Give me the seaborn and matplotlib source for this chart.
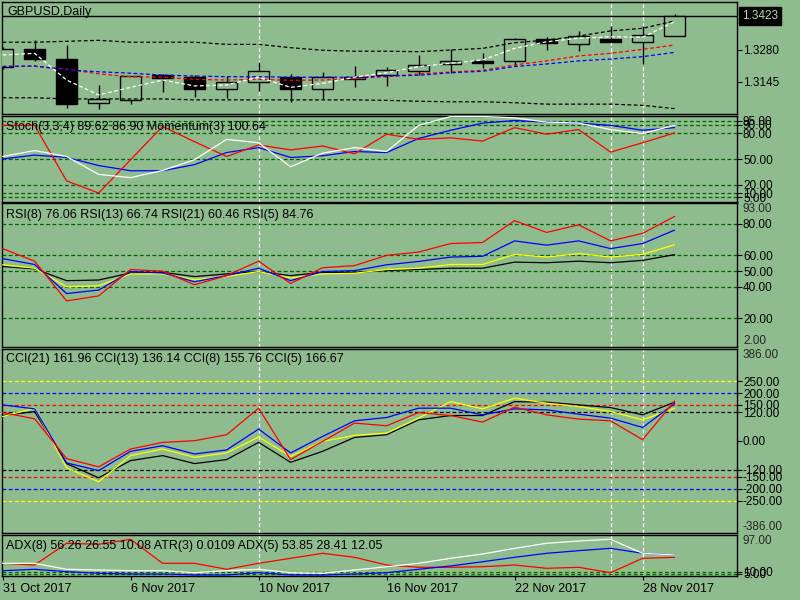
import matplotlib
matplotlib.use("Agg")
import matplotlib.pyplot as plt
import numpy as np
import pandas as pd
import seaborn as sns

# GBPUSD daily bars
dates = pd.to_datetime([
    "2017-10-31", "2017-11-01", "2017-11-02", "2017-11-03", "2017-11-06", "2017-11-07",
    "2017-11-08", "2017-11-09", "2017-11-10", "2017-11-13", "2017-11-14", "2017-11-15",
    "2017-11-16", "2017-11-17", "2017-11-20", "2017-11-21", "2017-11-22", "2017-11-23",
    "2017-11-24", "2017-11-27", "2017-11-28", "2017-11-29"])

opens = [1.3209, 1.3283, 1.3241, 1.3054, 1.3066, 1.3175, 1.3164, 1.3113, 1.3143, 1.3164, 1.3113,
         1.3157, 1.3175, 1.3192, 1.3219, 1.3232, 1.3234, 1.3326, 1.3306, 1.3325, 1.3314, 1.3337]
highs = [1.3290, 1.3321, 1.3300, 1.3131, 1.3170, 1.3178, 1.3173, 1.3168, 1.3228, 1.3178, 1.3186,
         1.3212, 1.3207, 1.3258, 1.3282, 1.3268, 1.3331, 1.3334, 1.3358, 1.3381, 1.3381, 1.3431]
lows = [1.3200, 1.3234, 1.3035, 1.3030, 1.3052, 1.3103, 1.3082, 1.3077, 1.3107, 1.3059, 1.3071,
        1.3124, 1.3128, 1.3173, 1.3183, 1.3204, 1.3213, 1.3279, 1.3275, 1.3313, 1.3219, 1.3337]
closes = [1.3282, 1.3242, 1.3052, 1.3072, 1.3168, 1.3162, 1.3113, 1.3143, 1.3190, 1.3113, 1.3164,
          1.3164, 1.3193, 1.3214, 1.3231, 1.3224, 1.3324, 1.3308, 1.3337, 1.3314, 1.3343, 1.3423]
bid = 1.3423

band_upper = [1.3312, 1.3312, 1.3316, 1.3320, 1.3312, 1.3312, 1.3312, 1.3303, 1.3303, 1.3289, 1.3278,
              1.3274, 1.3274, 1.3272, 1.3279, 1.3286, 1.3310, 1.3321, 1.3338, 1.3360, 1.3371, 1.3402]
band_lower = [1.3077, 1.3077, 1.3072, 1.3072, 1.3072, 1.3072, 1.3068, 1.3068, 1.3068, 1.3068, 1.3068,
              1.3068, 1.3066, 1.3062, 1.3060, 1.3060, 1.3056, 1.3050, 1.3050, 1.3050, 1.3045, 1.3031]
ma_white = [1.3258, 1.3265, 1.3152, 1.3089, 1.3121, 1.3152, 1.3127, 1.3131, 1.3164, 1.3121, 1.3138,
            1.3164, 1.3183, 1.3209, 1.3223, 1.3237, 1.3286, 1.3314, 1.3329, 1.3335, 1.3333, 1.3399]
ma_red = [1.3210, 1.3210, 1.3198, 1.3178, 1.3166, 1.3164, 1.3155, 1.3152, 1.3155, 1.3151, 1.3152,
          1.3159, 1.3166, 1.3178, 1.3186, 1.3193, 1.3216, 1.3233, 1.3254, 1.3265, 1.3282, 1.3300]
ma_blue = [1.3209, 1.3212, 1.3195, 1.3187, 1.3181, 1.3173, 1.3169, 1.3166, 1.3166, 1.3164, 1.3164,
           1.3164, 1.3169, 1.3172, 1.3183, 1.3189, 1.3209, 1.3220, 1.3233, 1.3241, 1.3251, 1.3269]

stoch_main = [53.0, 59.9, 53.0, 31.9, 28.1, 36.5, 49.2, 73.1, 69.1, 40.8, 56.9,
              63.4, 58.8, 89.5, 100.0, 100.0, 98.4, 93.4, 92.2, 84.6, 80.0, 89.62]
stoch_signal = [50.0, 54.6, 51.8, 42.3, 36.2, 36.2, 43.4, 57.6, 63.4, 51.8, 53.8,
                58.8, 57.6, 74.2, 83.8, 92.2, 95.3, 93.4, 92.2, 89.6, 83.8, 86.90]
momentum = [89.6, 89.6, 24.2, 10.0, 49.2, 88.4, 70.3, 53.0, 66.5, 60.7, 65.3,
            56.1, 79.2, 73.1, 74.9, 71.1, 86.9, 79.2, 84.6, 58.1, 69.1, 80.7]

rsi5 = [64.3, 56.3, 31.0, 34.2, 51.0, 49.9, 41.3, 47.1, 56.3, 42.1, 52.1,
        53.5, 60.0, 62.1, 67.5, 68.2, 82.1, 74.6, 79.4, 69.2, 74.0, 84.76]
rsi8 = [57.9, 54.2, 35.7, 37.9, 49.7, 48.8, 43.2, 47.1, 51.8, 43.9, 49.7,
        50.3, 54.0, 56.1, 58.9, 59.4, 69.2, 66.5, 69.2, 64.3, 67.5, 76.06]
rsi13 = [54.0, 51.8, 40.0, 40.6, 48.2, 48.2, 44.5, 46.6, 49.7, 45.6, 48.2,
         48.6, 51.0, 51.8, 54.2, 54.2, 60.6, 58.9, 61.1, 58.9, 60.6, 66.74]
rsi21 = [52.9, 51.4, 43.9, 44.3, 48.8, 49.2, 46.5, 48.2, 49.7, 47.1, 49.2,
         49.2, 50.3, 51.0, 51.8, 51.8, 55.7, 55.3, 56.3, 55.3, 56.8, 60.46]

cci5 = [118.5, 92.3, -74.0, -108.5, -33.7, -6.2, 0.8, 25.8, 136.7, -78.0, -2.0,
        74.4, 63.2, 118.5, 106.0, 78.6, 140.9, 108.9, 91.0, 84.0, 5.0, 166.67]
cci8 = [150.5, 133.8, -92.0, -124.0, -43.6, -20.0, -54.6, -37.8, 49.5, -50.3, 18.7,
        84.0, 97.7, 136.7, 136.7, 108.9, 133.8, 129.7, 111.8, 95.2, 56.1, 155.76]
cci13 = [101.8, 136.7, -112.6, -170.8, -61.5, -33.7, -68.6, -50.3, 16.2, -64.4, -2.0,
         22.9, 32.8, 95.2, 164.2, 133.8, 178.3, 157.5, 143.4, 122.6, 88.1, 136.14]
cci21 = [106.0, 122.6, -94.8, -154.2, -82.3, -61.5, -94.8, -78.0, -6.2, -89.4, -43.6,
         14.5, 25.8, 88.1, 106.0, 106.0, 164.2, 161.7, 150.5, 139.2, 108.9, 161.96]

adx_white = [30.0, 30.0, 15.9, 14.2, 12.5, 12.5, 7.8, 12.5, 15.9, 7.8, 6.4,
             14.2, 22.0, 30.0, 41.9, 52.0, 65.5, 77.4, 82.8, 86.8, 53.7, 49.7]
adx_blue = [12.5, 15.9, 10.2, 6.4, 4.7, 4.7, 2.4, 2.4, 7.8, 2.4, 2.4,
            4.7, 7.8, 15.9, 23.7, 33.8, 44.2, 53.7, 59.9, 65.5, 53.7, 49.7]
adx_red = [30.0, 26.0, 77.4, 75.0, 86.8, 30.0, 30.0, 15.9, 30.0, 41.9, 53.7,
           44.2, 26.0, 20.6, 20.6, 22.0, 26.0, 18.2, 20.6, 7.8, 41.9, 44.2]
adx_dotted = [33.8, 33.0, 15.9, 14.2, 11.4, 10.2, 9.5, 11.4, 12.5, 10.2, 9.5,
              10.2, 11.4, 12.5, 11.4, 10.2, 11.4, 12.5, 11.4, 10.2, 12.5, 14.2]

marked_bars = [8, 19, 20]          # white dashed verticals
date_ticks = [0, 4, 8, 12, 16, 20]

BG = "#8fbc8f"
GRID = "#006400"
W, H = 800, 600
LEFT, RIGHT = 2.3, 737.3
DASH = (0, (3, 2))

sns.set_style("ticks", {"axes.facecolor": BG, "figure.facecolor": BG,
                        "axes.edgecolor": "black", "axes.grid": False})
plt.rcParams["font.family"] = ["Liberation Sans", "DejaVu Sans"]

pos = np.arange(len(dates))
fig = plt.figure(figsize=(8, 6), dpi=100, facecolor=BG)


def panel(top, bottom):
    ax = fig.add_axes([LEFT / W, 1 - bottom / H, (RIGHT - LEFT) / W, (bottom - top) / H])
    ax.set_facecolor(BG)
    ax.yaxis.tick_right()
    ax.tick_params(axis="y", direction="out", length=3.6, width=0.8, pad=0.5,
                   labelsize=8.5, colors="black")
    ax.tick_params(axis="x", bottom=False, labelbottom=False)
    for s in ax.spines.values():
        s.set_linewidth(1.0)
        s.set_color("black")
    for b in marked_bars:
        ax.axvline(b, color="white", lw=0.9, ls=DASH, zorder=1)
    return ax


def line(ax, y, color, ls="-", z=3):
    sns.lineplot(x=pos, y=y, ax=ax, color=color, lw=0.9, linestyle=ls, zorder=z)


def edge_label(ax, value, text, top):
    ax.annotate(text, xy=(1, value), xycoords=("axes fraction", "data"),
                xytext=(4.1, 0), textcoords="offset points", fontsize=8.5,
                ha="left", va="top" if top else "bottom", annotation_clip=False)


def levels(ax, vals, colors):
    for v, c in zip(vals, colors):
        ax.axhline(v, color=c, lw=0.9, ls=DASH, zorder=1)


def finish(ax, ylim):
    ax.set_xlim(-0.01, 22.96)
    ax.set_ylim(*ylim)
    ax.set(xlabel="", ylabel="")


# main price panel
ax0 = panel(2.3, 114.3)
o, h, l, c = map(np.array, (opens, highs, lows, closes))
bull = c >= o
ax0.vlines(pos, l, h, color="black", lw=1, zorder=2)
ax0.bar(pos[bull], (c - o)[bull], bottom=o[bull], width=0.66, facecolor=BG,
        edgecolor="black", lw=1, zorder=3)
ax0.bar(pos[~bull], (o - c)[~bull], bottom=c[~bull], width=0.66, facecolor="black",
        edgecolor="black", lw=1, zorder=3)
for series, col in [(band_upper, "black"), (band_lower, "black"), (ma_red, "red"),
                    (ma_blue, "blue"), (ma_white, "white")]:
    line(ax0, series, col, ls=DASH, z=4)
ax0.axhline(bid, color="black", lw=1, zorder=2)
ax0.set_yticks([1.3280, 1.3145], ["1.3280", "1.3145"])
ax0.annotate(f"{bid:.4f}", xy=(1, bid), xycoords=("axes fraction", "data"),
             xytext=(3.4, 0), textcoords="offset points", fontsize=8.5, color="#b4dab4",
             ha="left", va="center", annotation_clip=False,
             bbox=dict(boxstyle="square,pad=0.28", facecolor="black", edgecolor="black"))
finish(ax0, (1.3007, 1.3481))

# stochastic / momentum
ax1 = panel(116.5, 201.5)
stoch_lv = [95, 90, 80, 50, 20, 10, 5]
levels(ax1, stoch_lv, [GRID] * len(stoch_lv))
line(ax1, stoch_signal, "blue")
line(ax1, momentum, "red")
line(ax1, stoch_main, "white")
ax1.set_yticks(stoch_lv, [f"{v:.2f}" for v in stoch_lv])
finish(ax1, (0, 100))

# RSI
ax2 = panel(203.5, 346.5)
rsi_lv = [80, 60, 50, 40, 20]
levels(ax2, rsi_lv, [GRID] * len(rsi_lv))
line(ax2, rsi21, "black")
line(ax2, rsi13, "yellow")
line(ax2, rsi8, "blue")
line(ax2, rsi5, "red")
ax2.set_yticks(rsi_lv, [f"{v:.2f}" for v in rsi_lv])
edge_label(ax2, 93, "93.00", True)
edge_label(ax2, 2, "2.00", False)
finish(ax2, (2, 93))

# CCI
ax3 = panel(348.5, 533.3)
cci_lv = [250, 200, 150, 120, -120, -150, -200, -250]
levels(ax3, cci_lv, ["yellow", "blue", "red", "black", "black", "red", "blue", "yellow"])
line(ax3, cci21, "black")
line(ax3, cci13, "yellow")
line(ax3, cci8, "blue")
line(ax3, cci5, "red")
cci_ticks = [250, 200, 150, 120, 0, -120, -150, -200, -250]
ax3.set_yticks(cci_ticks, [f"{v:.2f}" for v in cci_ticks])
edge_label(ax3, 386, "386.00", True)
edge_label(ax3, -386, "-386.00", False)
finish(ax3, (-386, 386))

# ADX / ATR
ax4 = panel(535, 576)
levels(ax4, [10, 5], [GRID, GRID])
line(ax4, adx_dotted, "#9acd32", ls=(0, (1.5, 2)))
line(ax4, adx_red, "red")
line(ax4, adx_blue, "blue")
line(ax4, adx_white, "white")
ax4.set_yticks([10, 5], ["10.00", "5.00"])
edge_label(ax4, 97, "97.00", True)
ax4.tick_params(axis="x", bottom=True, labelbottom=True, direction="out", length=3,
                width=0.8, pad=2, labelsize=9, colors="black")
ax4.set_xticks(date_ticks, [dates[i].strftime("%-d %b %Y") for i in date_ticks])
for lab in ax4.get_xticklabels():
    lab.set_ha("left")
finish(ax4, (0, 97))

# panel captions
captions = [
    (7, 11.5, "GBPUSD,Daily"),
    (6, 126.7, "Stoch(3,3,4) 89.62 86.90 Momentum(3) 100.64"),
    (6, 215, "RSI(8) 76.06 RSI(13) 66.74 RSI(21) 60.46 RSI(5) 84.76"),
    (6, 359.3, "CCI(21) 161.96 CCI(13) 136.14 CCI(8) 155.76 CCI(5) 166.67"),
    (6, 546.2, "ADX(8) 56.26 26.55 10.08 ATR(3) 0.0109 ADX(5) 53.85 28.41 12.05"),
]
for x, y, txt in captions:
    fig.text(x / W, 1 - y / H, txt, fontsize=9, ha="left", va="center", color="black", zorder=10)

fig.savefig("out.png", dpi=100, facecolor=BG)
plt.close(fig)
